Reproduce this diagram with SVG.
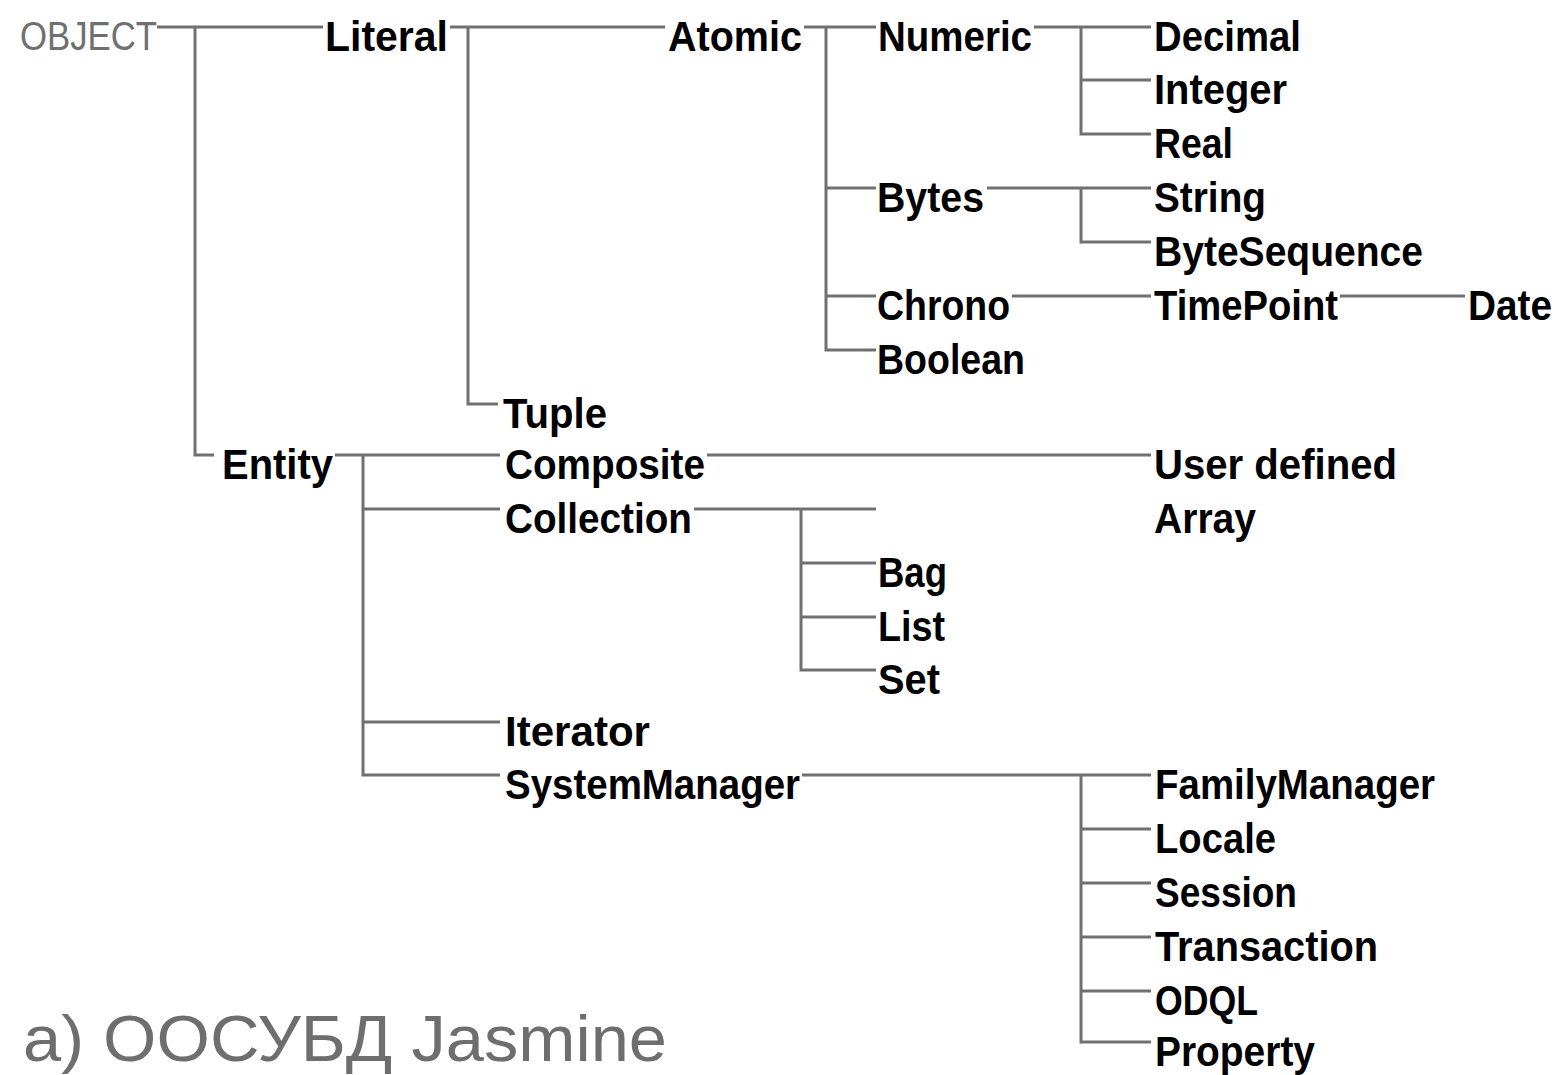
<svg xmlns="http://www.w3.org/2000/svg" width="1562" height="1075" viewBox="0 0 1562 1075">
<style>
.n{font-family:"Liberation Sans",Arial,sans-serif;font-weight:bold;font-size:42px;fill:#000}
.g{font-family:"Liberation Sans",Arial,sans-serif;font-size:40px;fill:#707070}
.cap{font-family:"Liberation Sans",Arial,sans-serif;font-size:64px;fill:#6e6e6e}
.c path{fill:none;stroke:#707070;stroke-width:3}
</style>
<rect width="1562" height="1075" fill="#fff"/>
<g class="c" id="connectors">
<path d="M157 27H323"/>
<path d="M195 27V455H214"/>
<path d="M450 27H665"/>
<path d="M468 27V404H498"/>
<path d="M804 27H876"/>
<path d="M826 27V350H876M826 188H876M826 296H876"/>
<path d="M1034 27H1151"/>
<path d="M1081 27V134H1151M1081 80H1151"/>
<path d="M987 188H1151"/>
<path d="M1081 188V242H1151"/>
<path d="M1012 296H1151"/>
<path d="M1340 296H1465"/>
<path d="M335 455H500"/>
<path d="M363 455V775H500M363 509H500M363 722H500"/>
<path d="M707 455H1151"/>
<path d="M694 509H876"/>
<path d="M801 509V670H876M801 563H876M801 617H876"/>
<path d="M802 775H1151"/>
<path d="M1081 775V1042H1151M1081 829H1151M1081 883H1151M1081 937H1151M1081 991H1151"/>
</g>
<g id="OBJECT"><text class="g" x="20" y="50" textLength="137" lengthAdjust="spacingAndGlyphs">OBJECT</text></g>
<g id="Literal"><text class="n" x="325" y="51" textLength="123" lengthAdjust="spacingAndGlyphs">Literal</text></g>
<g id="Atomic"><text class="n" x="668" y="51" textLength="134" lengthAdjust="spacingAndGlyphs">Atomic</text></g>
<g id="Numeric"><text class="n" x="878" y="51" textLength="154" lengthAdjust="spacingAndGlyphs">Numeric</text></g>
<g id="Decimal"><text class="n" x="1154" y="51" textLength="147" lengthAdjust="spacingAndGlyphs">Decimal</text></g>
<g id="Integer"><text class="n" x="1154" y="104" textLength="133" lengthAdjust="spacingAndGlyphs">Integer</text></g>
<g id="Real"><text class="n" x="1154" y="158" textLength="79" lengthAdjust="spacingAndGlyphs">Real</text></g>
<g id="Bytes"><text class="n" x="877" y="212" textLength="107" lengthAdjust="spacingAndGlyphs">Bytes</text></g>
<g id="String"><text class="n" x="1154" y="212" textLength="112" lengthAdjust="spacingAndGlyphs">String</text></g>
<g id="ByteSequence"><text class="n" x="1154" y="266" textLength="269" lengthAdjust="spacingAndGlyphs">ByteSequence</text></g>
<g id="Chrono"><text class="n" x="877" y="320" textLength="133" lengthAdjust="spacingAndGlyphs">Chrono</text></g>
<g id="TimePoint"><text class="n" x="1154" y="320" textLength="184" lengthAdjust="spacingAndGlyphs">TimePoint</text></g>
<g id="Date"><text class="n" x="1468" y="320" textLength="84" lengthAdjust="spacingAndGlyphs">Date</text></g>
<g id="Boolean"><text class="n" x="877" y="374" textLength="148" lengthAdjust="spacingAndGlyphs">Boolean</text></g>
<g id="Tuple"><text class="n" x="503" y="428" textLength="104" lengthAdjust="spacingAndGlyphs">Tuple</text></g>
<g id="Entity"><text class="n" x="222" y="479" textLength="111" lengthAdjust="spacingAndGlyphs">Entity</text></g>
<g id="Composite"><text class="n" x="505" y="479" textLength="200" lengthAdjust="spacingAndGlyphs">Composite</text></g>
<g id="UserDefined"><text class="n" x="1154" y="479" textLength="243" lengthAdjust="spacingAndGlyphs">User defined</text></g>
<g id="Collection"><text class="n" x="505" y="533" textLength="187" lengthAdjust="spacingAndGlyphs">Collection</text></g>
<g id="Array"><text class="n" x="1154" y="533" textLength="102" lengthAdjust="spacingAndGlyphs">Array</text></g>
<g id="Bag"><text class="n" x="878" y="587" textLength="69" lengthAdjust="spacingAndGlyphs">Bag</text></g>
<g id="List"><text class="n" x="878" y="641" textLength="67" lengthAdjust="spacingAndGlyphs">List</text></g>
<g id="Set"><text class="n" x="878" y="694" textLength="62" lengthAdjust="spacingAndGlyphs">Set</text></g>
<g id="Iterator"><text class="n" x="505" y="746" textLength="145" lengthAdjust="spacingAndGlyphs">Iterator</text></g>
<g id="SystemManager"><text class="n" x="505" y="799" textLength="295" lengthAdjust="spacingAndGlyphs">SystemManager</text></g>
<g id="FamilyManager"><text class="n" x="1155" y="799" textLength="280" lengthAdjust="spacingAndGlyphs">FamilyManager</text></g>
<g id="Locale"><text class="n" x="1155" y="853" textLength="121" lengthAdjust="spacingAndGlyphs">Locale</text></g>
<g id="Session"><text class="n" x="1155" y="907" textLength="142" lengthAdjust="spacingAndGlyphs">Session</text></g>
<g id="Transaction"><text class="n" x="1155" y="961" textLength="223" lengthAdjust="spacingAndGlyphs">Transaction</text></g>
<g id="ODQL"><text class="n" x="1155" y="1015" textLength="103" lengthAdjust="spacingAndGlyphs">ODQL</text></g>
<g id="Property"><text class="n" x="1155" y="1066" textLength="160" lengthAdjust="spacingAndGlyphs">Property</text></g>
<g id="caption"><text class="cap" x="23" y="1061" textLength="644" lengthAdjust="spacingAndGlyphs">а) ООСУБД Jasmine</text></g>
</svg>
